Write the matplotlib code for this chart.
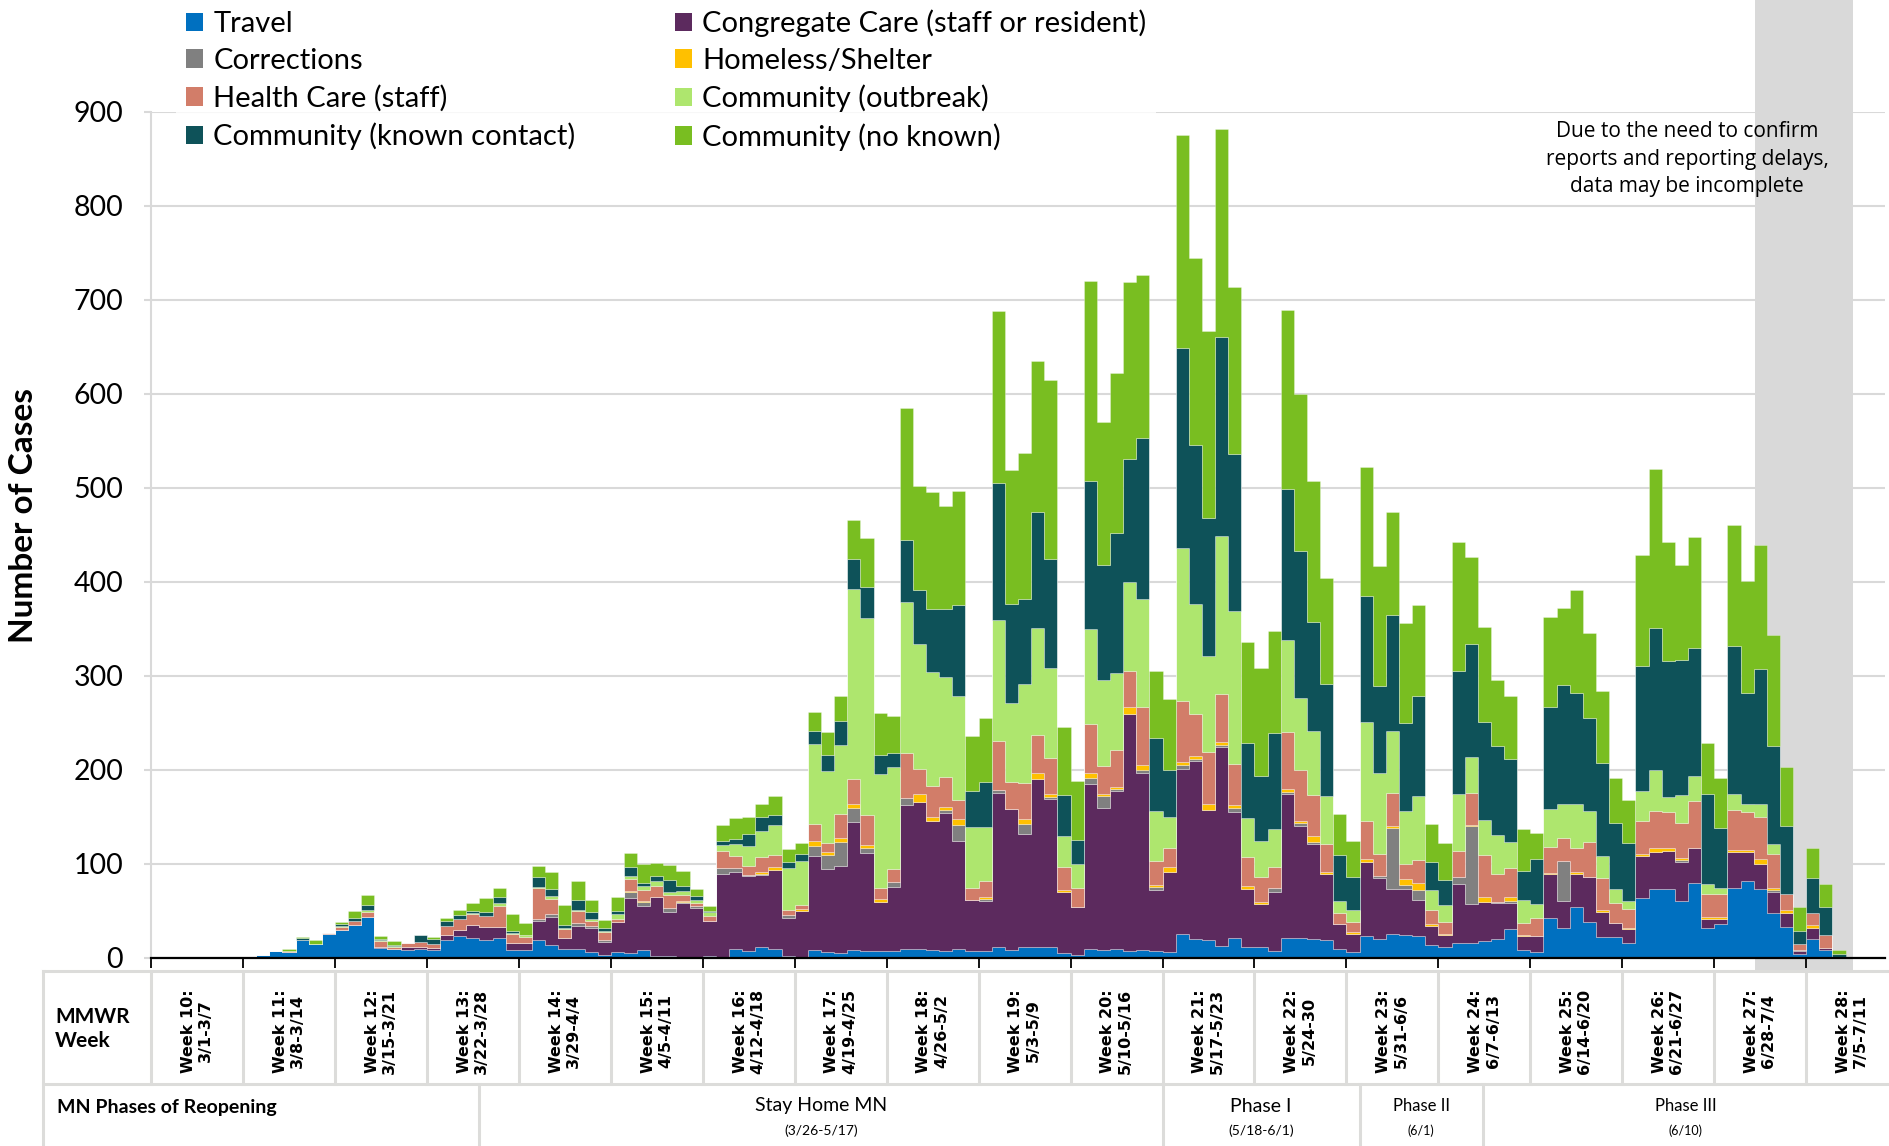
import numpy as np
import matplotlib
matplotlib.use("Agg")
import matplotlib.pyplot as plt
from matplotlib.patches import Patch, Rectangle
from matplotlib.transforms import blended_transform_factory

plt.rcParams['font.family'] = ['Lato', 'DejaVu Sans']

# daily cases by likely exposure, one day per value starting 3/1 (7 values = one MMWR week)
travel = [0, 0, 0, 0, 0, 0, 0,
          0, 3, 7, 6, 19, 15, 26,
          30, 35, 44, 11, 10, 9, 10,
          8, 19, 23, 21, 19, 21, 9,
          9, 19, 14, 10, 10, 6, 3,
          6, 5, 8, 2, 2, 1, 1,
          2, 0, 10, 7, 12, 10, 2,
          0, 8, 6, 5, 8, 7, 7,
          7, 10, 10, 9, 7, 10, 7,
          7, 12, 9, 12, 12, 12, 5,
          3, 10, 9, 10, 7, 9, 7,
          6, 26, 20, 19, 13, 21, 12,
          12, 7, 21, 21, 20, 19, 10,
          6, 23, 20, 26, 25, 23, 14,
          12, 16, 16, 18, 20, 31, 9,
          6, 43, 32, 54, 38, 22, 22,
          16, 64, 73, 73, 61, 80, 32,
          36, 74, 82, 73, 48, 33, 4,
          20, 9, 0]
congregate = [0, 0, 0, 0, 0, 0, 0,
              0, 0, 0, 0, 0, 0, 0,
              0, 0, 0, 1, 0, 3, 2,
              3, 5, 7, 14, 14, 12, 7,
              7, 20, 30, 11, 24, 26, 14,
              32, 59, 47, 63, 47, 57, 52,
              37, 89, 81, 80, 76, 84, 41,
              50, 101, 89, 93, 137, 105, 53,
              69, 153, 156, 137, 147, 114, 55,
              54, 164, 149, 120, 178, 157, 65,
              51, 175, 151, 168, 253, 188, 65,
              85, 175, 190, 138, 212, 134, 61,
              45, 63, 153, 119, 101, 70, 26,
              20, 79, 65, 47, 48, 39, 20,
              13, 63, 41, 42, 38, 28, 14,
              17, 46, 29, 35, 48, 27, 15,
              15, 44, 40, 41, 41, 37, 10,
              6, 39, 31, 27, 22, 15, 3,
              12, 2, 0]
corrections = [0, 0, 0, 0, 0, 0, 0,
               0, 0, 0, 0, 0, 0, 0,
               0, 0, 0, 0, 0, 0, 0,
               0, 0, 0, 0, 0, 0, 0,
               0, 3, 3, 0, 3, 2, 2,
               0, 6, 5, 0, 4, 2, 2,
               0, 7, 5, 1, 1, 0, 3,
               0, 10, 15, 25, 15, 5, 0,
               5, 7, 0, 0, 3, 18, 0,
               2, 3, 0, 11, 0, 2, 0,
               0, 6, 12, 2, 0, 3, 4,
               0, 4, 2, 0, 2, 5, 0,
               0, 5, 3, 4, 2, 0, 0,
               0, 0, 2, 65, 5, 10, 0,
               0, 7, 83, 0, 2, 2, 0,
               0, 0, 42, 0, 0, 0, 0,
               0, 0, 0, 0, 2, 0, 0,
               0, 0, 0, 0, 2, 0, 2,
               0, 0, 0]
homeless = [0, 0, 0, 0, 0, 0, 0,
            0, 0, 0, 0, 0, 0, 0,
            0, 0, 0, 0, 0, 0, 0,
            0, 0, 0, 0, 0, 0, 0,
            0, 0, 0, 0, 0, 0, 0,
            0, 1, 1, 0, 0, 1, 0,
            0, 0, 0, 0, 2, 3, 0,
            2, 6, 3, 5, 4, 3, 3,
            0, 0, 8, 4, 4, 6, 0,
            2, 0, 0, 5, 7, 4, 2,
            0, 6, 2, 2, 7, 5, 2,
            6, 4, 3, 7, 3, 3, 4,
            3, 0, 3, 2, 7, 3, 0,
            2, 3, 0, 2, 6, 8, 2,
            1, 0, 2, 5, 0, 4, 1,
            0, 1, 0, 2, 0, 2, 0,
            1, 3, 4, 3, 2, 0, 2,
            2, 2, 2, 5, 2, 3, 0,
            3, 0, 0]
health_care = [0, 0, 0, 0, 0, 0, 0,
               0, 0, 0, 1, 0, 0, 1,
               3, 4, 5, 6, 2, 4, 5,
               4, 10, 11, 12, 12, 22, 10,
               6, 33, 16, 10, 13, 5, 9,
               3, 13, 11, 12, 14, 6, 4,
               6, 18, 13, 10, 16, 13, 5,
               4, 18, 9, 25, 26, 32, 12,
               14, 48, 27, 33, 32, 20, 13,
               17, 52, 29, 38, 40, 38, 25,
               20, 52, 30, 39, 38, 62, 25,
               20, 64, 45, 55, 51, 43, 30,
               26, 22, 60, 54, 43, 29, 12,
               10, 41, 24, 36, 16, 24, 15,
               12, 28, 34, 45, 29, 31, 13,
               20, 28, 25, 26, 37, 34, 21,
               20, 35, 39, 38, 38, 50, 24,
               24, 42, 40, 45, 37, 17, 6,
               13, 14, 0]
comm_outbreak = [0, 0, 0, 0, 0, 0, 0,
                 0, 0, 0, 0, 0, 0, 0,
                 1, 0, 2, 1, 1, 0, 0,
                 0, 0, 0, 1, 0, 3, 1,
                 3, 1, 3, 1, 1, 2, 1,
                 6, 3, 5, 5, 3, 4, 3,
                 4, 6, 12, 21, 28, 32, 45,
                 47, 85, 77, 74, 203, 210, 121,
                 108, 161, 133, 121, 106, 111, 64,
                 57, 129, 84, 106, 114, 96, 33,
                 26, 101, 92, 82, 95, 115, 53,
                 33, 163, 117, 102, 168, 163, 42,
                 39, 40, 98, 77, 68, 51, 13,
                 13, 105, 86, 65, 56, 68, 21,
                 18, 61, 38, 37, 42, 27, 25,
                 14, 40, 36, 47, 33, 23, 15,
                 9, 32, 44, 16, 29, 27, 11,
                 6, 18, 9, 14, 10, 0, 0,
                 0, 0, 0]
comm_contact = [0, 0, 0, 0, 0, 0, 0,
                0, 0, 0, 0, 2, 0, 0,
                2, 4, 5, 1, 1, 0, 7,
                5, 5, 5, 2, 4, 7, 2,
                0, 10, 7, 3, 11, 8, 3,
                3, 10, 3, 5, 13, 6, 4,
                1, 5, 6, 13, 15, 10, 6,
                8, 13, 17, 25, 32, 33, 20,
                15, 66, 58, 67, 72, 97, 39,
                48, 145, 106, 90, 124, 116, 43,
                26, 157, 122, 149, 131, 171, 78,
                50, 213, 169, 147, 212, 167, 80,
                69, 102, 161, 156, 116, 120, 49,
                35, 134, 92, 124, 94, 107, 30,
                27, 130, 120, 104, 95, 89, 31,
                48, 109, 126, 118, 99, 99, 71,
                61, 133, 151, 145, 144, 136, 95,
                64, 157, 118, 143, 105, 72, 14,
                37, 29, 4]
comm_unknown = [0, 0, 0, 0, 0, 0, 0,
                0, 0, 0, 3, 1, 4, 0,
                2, 7, 11, 3, 4, 0, 0,
                2, 4, 5, 8, 15, 10, 18,
                12, 12, 18, 21, 20, 13, 8,
                15, 15, 20, 14, 16, 16, 7,
                5, 17, 22, 18, 14, 20, 14,
                11, 21, 24, 27, 41, 52, 45,
                39, 140, 110, 125, 110, 121, 58,
                68, 183, 142, 155, 160, 190, 73,
                62, 213, 152, 170, 188, 174, 71,
                76, 227, 199, 199, 221, 178, 107,
                114, 109, 190, 167, 150, 112, 43,
                38, 137, 128, 110, 106, 97, 41,
                39, 138, 93, 101, 70, 67, 44,
                28, 96, 82, 109, 91, 77, 48,
                46, 118, 169, 127, 101, 118, 55,
                54, 129, 119, 132, 118, 63, 25,
                32, 25, 5]

names = ["Travel", "Congregate Care (staff or resident)", "Corrections",
         "Homeless/Shelter", "Health Care (staff)", "Community (outbreak)",
         "Community (known contact)", "Community (no known)"]
colors = ["#0070C0", "#5C2A5E", "#808080", "#FFC000",
          "#D27D69", "#AEE66E", "#0E5259", "#79BE21"]

week_numbers = list(range(10, 29))
week_ranges = ["3/1-3/7", "3/8-3/14", "3/15-3/21", "3/22-3/28", "3/29-4/4",
               "4/5-4/11", "4/12-4/18", "4/19-4/25", "4/26-5/2", "5/3-5/9",
               "5/10-5/16", "5/17-5/23", "5/24-30", "5/31-6/6", "6/7-6/13",
               "6/14-6/20", "6/21-6/27", "6/28-7/4", "7/5-7/11"]

phase_names = ["Stay Home MN", "Phase I", "Phase II", "Phase III"]
phase_dates = ["(3/26-5/17)", "(5/18-6/1)", "(6/1)", "(6/10)"]
phase_edges = [25, 77, 92, 101.4, 132.3]   # day index from 3/1

incomplete_from, incomplete_to = 122.1, 129.6

W, H = 1889, 1146
fig = plt.figure(figsize=(W / 100, H / 100), dpi=100)

def fx(px):
    return px / W

def fy(py):
    return 1 - py / H

ax = fig.add_axes([fx(151), fy(958), fx(1885) - fx(151), fy(112) - fy(958)])
tr = blended_transform_factory(ax.transData, fig.transFigure)

series = [travel, congregate, corrections, homeless, health_care,
          comm_outbreak, comm_contact, comm_unknown]
n = len(travel)
x = np.arange(n + 1)
ys = [np.append(s, s[-1]) for s in series]
ax.stackplot(x, *ys, colors=colors, step='post', linewidth=0.6,
             edgecolor=(1, 1, 1, 0.35), zorder=2)

# shaded "incomplete data" band, runs past the axes top and into the table
ax.add_patch(Rectangle((incomplete_from, fy(970)), incomplete_to - incomplete_from,
                       1 - fy(970), transform=tr, facecolor="#D9D9D9",
                       edgecolor="none", clip_on=False, zorder=0.3))

ax.set_xlim(0, 132)
ax.set_ylim(0, 900)
ax.set_yticks(range(0, 901, 100))
ax.set_xticks(range(0, 127, 7))
ax.set_xticklabels([])
ax.set_axisbelow(True)
ax.grid(axis='y', color="#D9D9D9", lw=1.5)
for s in ["top", "right"]:
    ax.spines[s].set_visible(False)
ax.spines["left"].set_color("#D9D9D9")
ax.spines["left"].set_linewidth(1.5)
ax.spines["bottom"].set_color("black")
ax.spines["bottom"].set_linewidth(1.6)
ax.spines["bottom"].set_zorder(3)
ax.tick_params(axis='x', length=7, width=1.3, color='black', direction='out')
ax.tick_params(axis='y', length=5, width=1.5, color='#D9D9D9', pad=15, labelsize=20.5)

fig.text(fx(24), fy(516), "Number of Cases", rotation=90, ha='center', va='center',
         fontsize=24, fontweight='bold')

order = [0, 2, 4, 6, 1, 3, 5, 7]
handles = [Patch(facecolor=colors[i], edgecolor='none') for i in order]
leg = fig.legend(handles, [names[i] for i in order], ncol=2, loc='upper left',
                 bbox_to_anchor=(fx(176), 1.0), frameon=True, fancybox=False,
                 fontsize=21, handlelength=0.6, handleheight=0.6,
                 handletextpad=0.35, labelspacing=0.37, columnspacing=3.4,
                 borderpad=0.33, borderaxespad=0)
leg.get_frame().set_facecolor('white')
leg.get_frame().set_edgecolor('none')

fig.text(fx(1687), fy(159), "Due to the need to confirm\nreports and reporting delays,\ndata may be incomplete",
         ha='center', va='center', fontsize=15, family=['Open Sans', 'DejaVu Sans'],
         linespacing=1.4)

# table under the chart
line_kw = dict(transform=tr, color="#DCDCDA", lw=2.2, clip_on=False, zorder=1)
t_left, t_right = -8.2, 132.3
for yy in [971, 1084]:
    ax.plot([t_left, t_right], [fy(yy), fy(yy)], **line_kw)
ax.plot([t_left, t_left], [fy(971), fy(1146)], **line_kw)
for i in range(len(week_numbers)):
    ax.plot([7 * i, 7 * i], [fy(971), fy(1084)], **line_kw)
for b in phase_edges[:-1]:
    ax.plot([b, b], [fy(1084), fy(1146)], **line_kw)

fig.text(fx(55), fy(1029), "MMWR\nWeek", fontsize=15, fontweight='bold',
         ha='left', va='center', linespacing=1.2)
for i, (wk, rng) in enumerate(zip(week_numbers, week_ranges)):
    ax.text(7 * i + 3.5, fy(1031), f"Week {wk}:\n{rng}", transform=tr, rotation=90,
            ha='center', va='center', multialignment='center', fontsize=11.5,
            fontweight='bold', family='DejaVu Sans', linespacing=1.2)

fig.text(fx(57), fy(1107), "MN Phases of Reopening", fontsize=14, fontweight='bold',
         ha='left', va='center')
for j, (pn, pd_) in enumerate(zip(phase_names, phase_dates)):
    cx = (phase_edges[j] + phase_edges[j + 1]) / 2
    big = j < 2
    ax.text(cx, fy(1106), pn, transform=tr, ha='center', va='center',
            fontsize=14 if big else 12)
    ax.text(cx, fy(1131), pd_, transform=tr, ha='center', va='center',
            fontsize=10 if big else 9)

fig.savefig("out.png", dpi=100)
